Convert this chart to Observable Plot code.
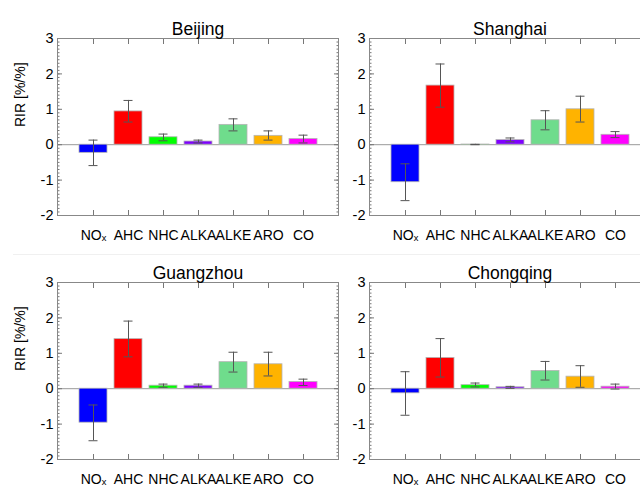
<!DOCTYPE html>
<html><head><meta charset="utf-8">
<script src="https://cdn.jsdelivr.net/npm/d3@7"></script>
<script src="https://cdn.jsdelivr.net/npm/@observablehq/plot@0.6"></script>
<style>
body{margin:0;background:#fff;}
#chart{position:relative;width:640px;height:487px;overflow:hidden;background:#fff;font-family:"Liberation Sans",Arial,sans-serif;}
#chart svg{position:absolute;}
.sep{position:absolute;left:13px;top:254px;width:627px;height:1px;background:#f0f0f0;}
</style></head><body><div id="chart"><div class="sep"></div></div>
<script>
const categories = ["NOₓ","AHC","NHC","ALKA","ALKE","ARO","CO"];
const barColors = ["#0000ff","#ff0000","#00ff00","#7f00ff","#6fdc8c","#ffb300","#ff00ff"];
const yTicks = [-2,-1,0,1,2,3];
const yMinorTicks = [-2,-1.9,-1.8,-1.7,-1.6,-1.5,-1.4,-1.3,-1.2,-1.1,-1,-0.9,-0.8,-0.7,-0.6,-0.5,-0.4,-0.3,-0.2,-0.1,0,0.1,0.2,0.3,0.4,0.5,0.6,0.7,0.8,0.9,1,1.1,1.2,1.3,1.4,1.5,1.6,1.7,1.8,1.9,2,2.1,2.2,2.3,2.4,2.5,2.6,2.7,2.8,2.9,3];
const yLabel = "RIR [%/%]";

const beijingRIR  = [-0.23, 0.94, 0.21, 0.09, 0.56, 0.25, 0.16];
const beijingLow  = [-0.59, 0.64, 0.11, 0.05, 0.39, 0.13, 0.05];
const beijingHigh = [ 0.13, 1.25, 0.30, 0.13, 0.73, 0.39, 0.27];

const shanghaiRIR  = [-1.06, 1.67, 0.005, 0.13, 0.69, 1.00, 0.28];
const shanghaiLow  = [-1.58, 1.06, 0.0, 0.08, 0.42, 0.64, 0.20];
const shanghaiHigh = [-0.54, 2.28, 0.01, 0.19, 0.96, 1.37, 0.37];

const guangzhouRIR  = [-0.96, 1.40, 0.085, 0.085, 0.75, 0.69, 0.19];
const guangzhouLow  = [-1.47, 0.90, 0.04, 0.04, 0.47, 0.36, 0.09];
const guangzhouHigh = [-0.46, 1.91, 0.13, 0.13, 1.03, 1.03, 0.27];

const chongqingRIR  = [-0.13, 0.87, 0.10, 0.04, 0.50, 0.34, 0.057];
const chongqingLow  = [-0.75, 0.33, 0.05, 0.01, 0.245, 0.04, -0.01];
const chongqingHigh = [ 0.48, 1.415, 0.16, 0.066, 0.77, 0.65, 0.13];

const FONT = "Liberation Sans, Arial, Helvetica, sans-serif";
const AX = "#777";

function panel(city, values, lows, highs, showYLabel, left, top) {
  const data = categories.map((c, i) => ({cat: c, v: values[i], lo: lows[i], hi: highs[i]}));
  const p = Plot.plot({
    width: 345, height: 243,
    marginTop: 38, marginBottom: 28, marginLeft: 57, marginRight: 7,
    style: {background: "transparent", fontFamily: FONT, fontSize: "14px", color: "#000", overflow: "visible"},
    x: {type: "band", domain: categories, paddingInner: 0.2, paddingOuter: 0.6},
    y: {domain: [-2, 3]},
    color: {type: "ordinal", domain: categories, range: barColors},
    marks: [
      Plot.ruleY([0], {stroke: "#999"}),
      Plot.barY(data, {x: "cat", y: "v", fill: "cat", stroke: "#b5b5b5", strokeWidth: 0.8}),
      Plot.ruleX(data, {x: "cat", y1: "lo", y2: "hi", stroke: "#555"}),
      Plot.tickY(data, {x: "cat", y: "lo", stroke: "#555", insetLeft: 9.5, insetRight: 9.5}),
      Plot.tickY(data, {x: "cat", y: "hi", stroke: "#555", insetLeft: 9.5, insetRight: 9.5}),
      Plot.axisY({anchor: "left", ticks: yMinorTicks, tickSize: -2.5, tickFormat: () => "", stroke: AX, label: null}),
      Plot.axisY({anchor: "right", ticks: yMinorTicks, tickSize: -2.5, tickFormat: () => "", stroke: AX, label: null}),
      Plot.axisY({anchor: "left", ticks: yTicks, tickSize: -5, tickPadding: 9, tickFormat: d => String(d), stroke: AX, label: null, fontSize: 14.5}),
      Plot.axisY({anchor: "right", ticks: yTicks, tickSize: -5, tickFormat: () => "", stroke: AX, label: null}),
      Plot.axisX({anchor: "bottom", tickSize: -5, tickPadding: 20, stroke: AX, label: null, fontSize: 14}),
      Plot.axisX({anchor: "top", tickSize: -5, tickFormat: () => "", stroke: AX, label: null}),
      Plot.frame({stroke: "#888"}),
      Plot.text([city], {frameAnchor: "top", dy: -16, fontSize: 17.5, text: d => d}),
      showYLabel ? Plot.text([yLabel], {frameAnchor: "left", dx: -37, rotate: -90, fontSize: 14, text: d => d}) : null
    ]
  });
  p.style.left = left + "px";
  p.style.top = top + "px";
  document.getElementById("chart").appendChild(p);
}

panel("Beijing", beijingRIR, beijingLow, beijingHigh, true, 0, 0);
panel("Shanghai", shanghaiRIR, shanghaiLow, shanghaiHigh, false, 312, 0);
panel("Guangzhou", guangzhouRIR, guangzhouLow, guangzhouHigh, true, 0, 244);
panel("Chongqing", chongqingRIR, chongqingLow, chongqingHigh, false, 312, 244);
</script></body></html>
